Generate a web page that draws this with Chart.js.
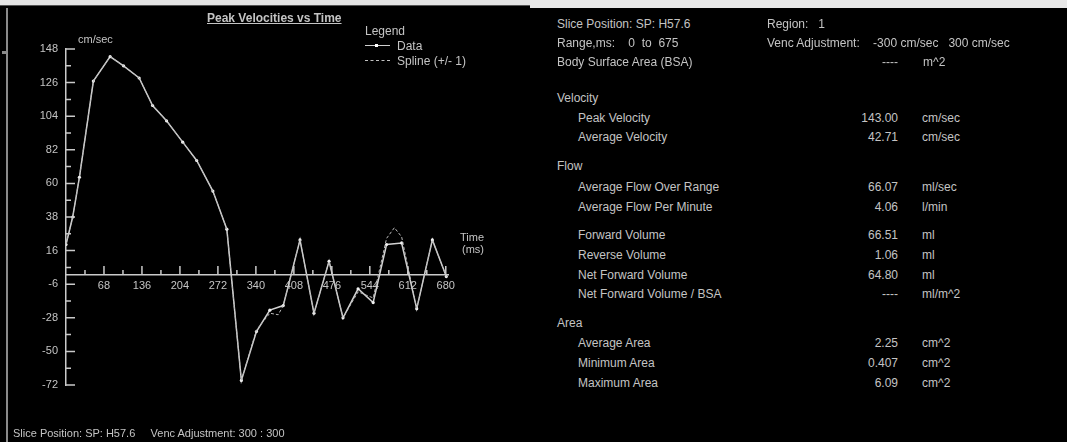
<!DOCTYPE html>
<html>
<head>
<meta charset="utf-8">
<script src="https://cdn.jsdelivr.net/npm/chart.js@4.4.1/dist/chart.umd.min.js"></script>
<style>
  html, body { margin: 0; padding: 0; background: #000; }
  body { width: 1067px; height: 442px; position: relative; overflow: hidden;
         font-family: "Liberation Sans", Arial, sans-serif; color: #c4c4c4; }
  .t { position: absolute; white-space: pre; font-size: 12px; line-height: 14px; }
  .r { text-align: right; }
  #velChart { position: absolute; left: 0; top: 0; }
</style>
</head>
<body>
<div style="position:absolute;left:0;top:0;width:530px;height:5px;background:#e4e4e4"></div>
<div style="position:absolute;left:0;top:5px;width:530px;height:1px;background:#555"></div>
<div style="position:absolute;left:530px;top:0;right:0;height:8px;background:#e8e8e8"></div>
<div style="position:absolute;left:6px;top:8px;width:2px;height:434px;background:#8a8a8a"></div>
<div style="position:absolute;left:2px;top:51px;width:4px;height:3px;background:#8a8a8a"></div>

<canvas id="velChart" width="540" height="442"></canvas>

<div class="t" style="left:207px;top:11px;font-weight:bold;text-decoration:underline">Peak Velocities vs Time</div>
<div class="t" style="left:78px;top:32px;font-size:11px">cm/sec</div>
<div class="t" style="left:365px;top:24px">Legend</div>
<div style="position:absolute;left:365px;top:45px;width:25px;height:0;border-top:1.5px solid #d0d0d0"></div>
<div style="position:absolute;left:375px;top:44px;width:3px;height:3px;background:#fff"></div>
<div class="t" style="left:397px;top:39px">Data</div>
<div style="position:absolute;left:365px;top:60px;width:25px;height:0;border-top:1px dashed #c0c0c0"></div>
<div class="t" style="left:397px;top:54px">Spline (+/- 1)</div>
<div class="t" style="left:460px;top:230px;font-size:11px">Time</div>
<div class="t" style="left:462px;top:242px;font-size:11px">(ms)</div>
<div class="t" style="left:13px;top:426px;font-size:11px">Slice Position: SP: H57.6     Venc Adjustment: 300 : 300</div>

<div id="panel"></div>

<script>
// time of each phase (ms) and peak velocity (cm/sec)
const timeMs   = [0, 12, 24, 49, 79, 103, 131, 155, 180, 209, 234, 263, 288, 314,
                  341, 365, 389, 419, 444, 471, 496, 523, 550, 574, 601, 628, 656, 681];
const velocity = [20, 38, 64, 127, 143, 137, 129, 111, 101, 87, 75, 55, 30, -69,
                  -37, -23, -20, 23, -25, 9, -28, -9, -18, 20, 21, -22, 23, -1];

// spline fit (+/- 1)
const splineTime = [0, 12, 24, 49, 79, 103, 131, 155, 180, 209, 234, 263, 288, 314,
                    341, 365, 380, 389, 419, 444, 471, 496, 523, 550, 574, 588, 601, 628, 656, 681];
const splineVel  = [20, 38, 64, 127, 143, 137, 129, 111, 101, 87, 75, 55, 30, -69,
                    -36, -25, -26, -20, 23, -25, 9, -28, -11, -15, 24, 31, 25, -22, 23, -1];

const xTickLabels = [68, 136, 204, 272, 340, 408, 476, 544, 612, 680];
const yTickLabels = [-72, -50, -28, -6, 16, 38, 60, 82, 104, 126, 148];

const axisColor = '#cacaca';
const tickFont = { family: 'Liberation Sans', size: 11 };

// short tick marks drawn on the inner side of the axes, with a minor tick between
const tickMarks = {
  id: 'tickMarks',
  afterDraw(chart) {
    const { ctx, scales: { x, y } } = chart;
    const x0 = x.getPixelForValue(0);
    const y0 = y.getPixelForValue(0);
    ctx.save();
    ctx.strokeStyle = axisColor;
    ctx.lineWidth = 1.5;
    ctx.beginPath();
    y.ticks.forEach((t, i) => {
      const py = y.getPixelForValue(t.value);
      ctx.moveTo(x0, py); ctx.lineTo(x0 + 9, py);
      if (i < y.ticks.length - 1) {
        const pm = y.getPixelForValue((t.value + y.ticks[i + 1].value) / 2);
        ctx.moveTo(x0, pm); ctx.lineTo(x0 + 5, pm);
      }
    });
    let prev = 0;
    x.ticks.forEach(t => {
      const px = x.getPixelForValue(t.value);
      ctx.moveTo(px, y0); ctx.lineTo(px, y0 - 9);
      const pm = x.getPixelForValue((prev + t.value) / 2);
      ctx.moveTo(pm, y0); ctx.lineTo(pm, y0 - 5);
      prev = t.value;
    });
    ctx.stroke();
    ctx.restore();
  }
};

new Chart(document.getElementById('velChart'), {
  type: 'line',
  data: {
    datasets: [{
      label: 'Spline (+/- 1)',
      data: splineTime.map((t, i) => ({ x: t, y: splineVel[i] })),
      borderColor: '#b8b8b8',
      borderWidth: 1,
      borderDash: [3, 2],
      pointRadius: 0,
      tension: 0
    }, {
      label: 'Data',
      data: timeMs.map((t, i) => ({ x: t, y: velocity[i] })),
      borderColor: '#d2d2d2',
      borderWidth: 1.5,
      pointRadius: 1.6,
      pointBorderWidth: 0,
      pointBackgroundColor: '#f0f0f0',
      tension: 0
    }]
  },
  options: {
    responsive: false,
    animation: false,
    layout: { padding: { left: 26, top: 49, right: 92, bottom: 57 } },
    plugins: { legend: { display: false }, tooltip: { enabled: false } },
    scales: {
      x: {
        type: 'linear',
        min: 0,
        max: 684,
        position: { y: 0 },
        grid: { display: false, drawTicks: false },
        border: { color: axisColor, width: 1.5 },
        ticks: { color: '#c4c4c4', font: tickFont, padding: 4, autoSkip: false, maxRotation: 0 },
        afterBuildTicks: s => { s.ticks = xTickLabels.map(v => ({ value: v })); }
      },
      y: {
        type: 'linear',
        min: -72,
        max: 148,
        grid: { display: false, drawTicks: false },
        border: { color: axisColor, width: 1.5 },
        ticks: { color: '#c4c4c4', font: tickFont, padding: 8 },
        afterBuildTicks: s => { s.ticks = yTickLabels.map(v => ({ value: v })); },
        afterFit: s => { s.width = 40; }
      }
    }
  },
  plugins: [tickMarks]
});

// results panel on the right
const rows = [
  [24, 557, 'Slice Position: SP: H57.6'], [24, 767, 'Region:   1'],
  [43, 557, 'Range,ms:    0  to  675'], [43, 767, 'Venc Adjustment:    -300 cm/sec   300 cm/sec'],
  [62, 557, 'Body Surface Area (BSA)'], [62, 898, '----', 1], [62, 923, 'm^2'],
  [98, 557, 'Velocity'],
  [118, 578, 'Peak Velocity'], [118, 898, '143.00', 1], [118, 922, 'cm/sec'],
  [137, 578, 'Average Velocity'], [137, 898, '42.71', 1], [137, 922, 'cm/sec'],
  [166, 557, 'Flow'],
  [187, 578, 'Average Flow Over Range'], [187, 898, '66.07', 1], [187, 922, 'ml/sec'],
  [207, 578, 'Average Flow Per Minute'], [207, 898, '4.06', 1], [207, 922, 'l/min'],
  [235, 578, 'Forward Volume'], [235, 898, '66.51', 1], [235, 922, 'ml'],
  [255, 578, 'Reverse Volume'], [255, 898, '1.06', 1], [255, 922, 'ml'],
  [275, 578, 'Net Forward Volume'], [275, 898, '64.80', 1], [275, 922, 'ml'],
  [294, 578, 'Net Forward Volume / BSA'], [294, 898, '----', 1], [294, 922, 'ml/m^2'],
  [323, 557, 'Area'],
  [343, 578, 'Average Area'], [343, 898, '2.25', 1], [343, 922, 'cm^2'],
  [363, 578, 'Minimum Area'], [363, 898, '0.407', 1], [363, 922, 'cm^2'],
  [383, 578, 'Maximum Area'], [383, 898, '6.09', 1], [383, 922, 'cm^2']
];
const panel = document.getElementById('panel');
rows.forEach(([cy, x, text, right]) => {
  const d = document.createElement('div');
  d.className = 't';
  d.textContent = text;
  d.style.top = (cy - 7) + 'px';
  if (right) { d.classList.add('r'); d.style.left = (x - 80) + 'px'; d.style.width = '80px'; }
  else d.style.left = x + 'px';
  panel.appendChild(d);
});
</script>
</body>
</html>
